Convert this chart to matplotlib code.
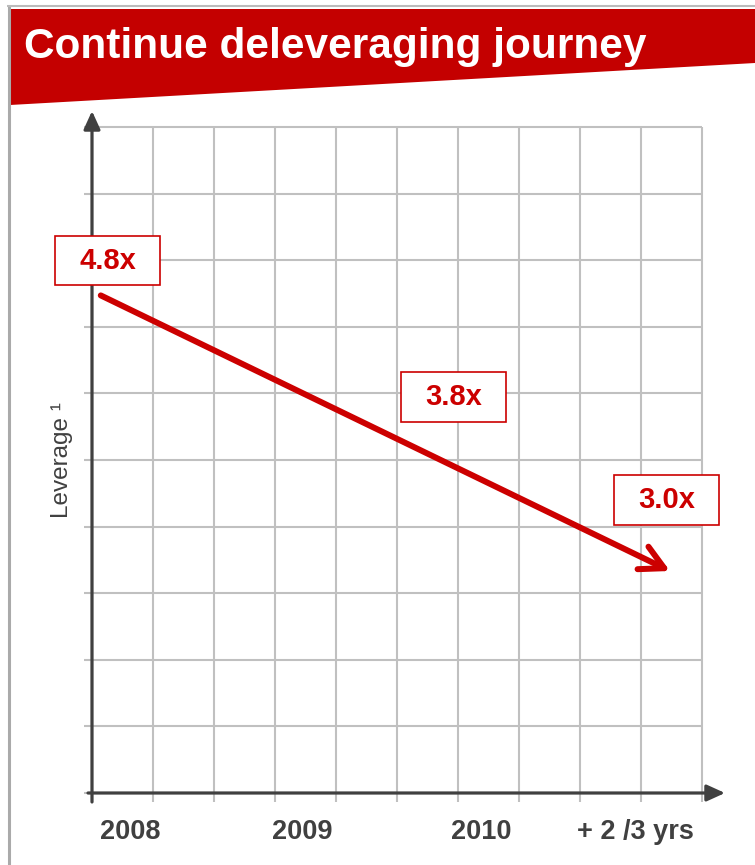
import numpy as np
import matplotlib.pyplot as plt
from matplotlib.path import Path
from matplotlib.patches import Polygon

plt.rcParams['font.family'] = ['Liberation Sans', 'DejaVu Sans']

# chart data
years = ['2008', '2009', '2010', '+ 2 /3 yrs']
leverage = [4.8, 3.8, 3.0]
leverage_labels = ['4.8x', '3.8x', '3.0x']

# layout
year_pos = [0, 1, 2.04, 2.94]
label_x = [-0.13, 1.88, 3.12]
label_dy = [25, 37, 51]          # points above the value
trend_x = [-0.17, 3.14]

RED = '#CC0000'
DARK = '#404040'
GRID = '#c0c0c0'

fig = plt.figure(figsize=(7.55, 8.65), dpi=100)

# banner + frame, in pixel coords
bg = fig.add_axes([0, 0, 1, 1], zorder=0)
bg.set_xlim(0, 755)
bg.set_ylim(865, 0)
bg.axis('off')
bg.add_patch(Polygon([(10, 9), (755, 9), (755, 63), (10, 105)], closed=True,
                     facecolor='#C40000', edgecolor='none'))
bg.plot([8.5, 8.5], [5, 865], color='#aaaaaa', lw=2.2, solid_capstyle='butt')
bg.plot([7, 755], [6, 6], color='#bbbbbb', lw=1.5, solid_capstyle='butt')
bg.text(24, 58, 'Continue deleveraging journey', color='white', fontsize=30.5,
        fontweight='bold', ha='left', va='baseline')

ax = fig.add_axes([92 / 755, 1 - 793 / 865, 610 / 755, 666 / 865], zorder=1)
ax.patch.set_alpha(0)
x0, x1 = -0.221, 3.326
y0, y1 = 1.55, 5.90
ax.set_xlim(x0, x1)
ax.set_ylim(y0, y1)
for s in ax.spines.values():
    s.set_visible(False)

# grid, extended a little past the axes like tick marks
gx = np.linspace(x0, x1, 11)
gy = np.linspace(y0, y1, 11)
ax.vlines(gx, y0 - 0.06, y1, color=GRID, lw=1.5, clip_on=False, zorder=1)
ax.hlines(gy, x0 - 0.047, x1, color=GRID, lw=1.5, clip_on=False, zorder=1)

# axes with arrow heads
ax.annotate('', xy=(0, 1 + 16 / 666), xycoords='axes fraction',
            xytext=(0, -0.0135), textcoords='axes fraction',
            arrowprops=dict(arrowstyle='-|>,head_length=11,head_width=5',
                            mutation_scale=1, color=DARK, lw=2.3,
                            shrinkA=0, shrinkB=0), zorder=3)
ax.annotate('', xy=(1 + 23 / 610, 0), xycoords='axes fraction',
            xytext=(-4 / 610, 0), textcoords='axes fraction',
            arrowprops=dict(arrowstyle='-|>,head_length=11,head_width=5',
                            mutation_scale=1, color=DARK, lw=2.3,
                            shrinkA=0, shrinkB=0), zorder=3)

ax.set_xticks(year_pos, years)
ax.set_yticks([])
ax.tick_params(axis='x', length=0, pad=19, labelsize=19.5, labelcolor=DARK)
for t in ax.get_xticklabels():
    t.set_fontweight('bold')
ax.set_ylabel('Leverage ¹', fontsize=17.5, color=DARK, labelpad=14)

# trend arrow from first to last leverage value
ax.annotate('', xy=(trend_x[1], leverage[-1]), xytext=(trend_x[0], leverage[0]),
            arrowprops=dict(arrowstyle='->,head_length=17,head_width=9',
                            mutation_scale=1, color=RED, lw=4.3,
                            shrinkA=0, shrinkB=0), zorder=4)


def label_box(x0, y0, width, height, mutation_size):
    px, py = 0.83 * mutation_size, 0.37 * mutation_size
    xa, ya = x0 - px, y0 - py
    xb, yb = x0 + width + px, y0 + height + py
    return Path([(xa, ya), (xb, ya), (xb, yb), (xa, yb), (xa, ya)], closed=True)


for x, v, lab, dy in zip(label_x, leverage, leverage_labels, label_dy):
    ax.annotate(lab, xy=(x, v), xytext=(0, dy), textcoords='offset points',
                ha='center', va='center', fontsize=21, fontweight='bold',
                color=RED, zorder=5,
                bbox=dict(boxstyle=label_box, facecolor='white',
                          edgecolor=RED, lw=1.2))

fig.savefig('out.png', dpi=100)
